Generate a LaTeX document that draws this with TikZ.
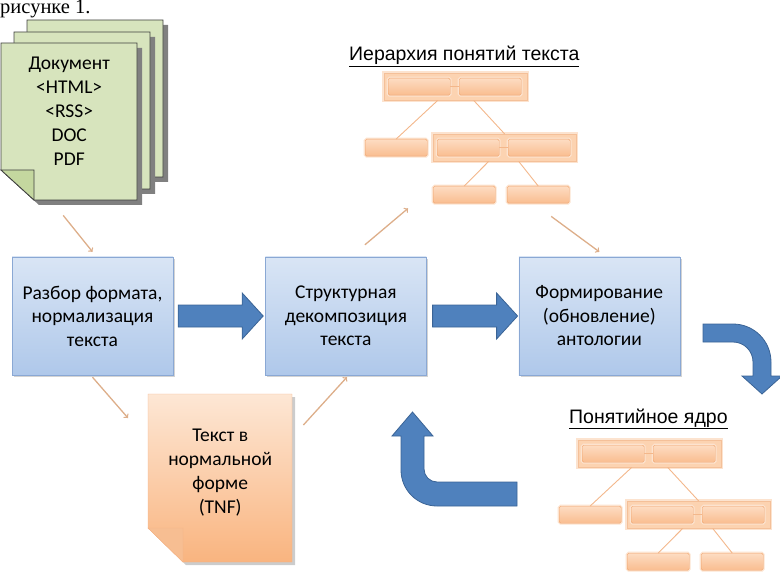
\documentclass[tikz,border=0pt]{standalone}
\usepackage{fontspec}
\setmainfont{Carlito}
\newfontfamily\arialfont{Liberation Sans}
\newfontfamily\timesfont{Liberation Serif}
\usetikzlibrary{positioning}
\usetikzlibrary{calc}
\usetikzlibrary{arrows}
\usetikzlibrary{shadows}
\definecolor{boxline}{HTML}{8AA8D4}
\definecolor{boxtop}{HTML}{D9E5F5}
\definecolor{boxbot}{HTML}{AFC8EA}
\definecolor{arrowfill}{HTML}{4F81BD}
\definecolor{arrowline}{HTML}{3B6496}
\definecolor{docgreen}{HTML}{D7E4BD}
\definecolor{docfold}{HTML}{C4D79F}
\definecolor{tnftop}{HTML}{FDE7D5}
\definecolor{tnfbot}{HTML}{F9B47F}
\definecolor{tnfline}{HTML}{F5B386}
\definecolor{tnffold}{HTML}{F7BE92}
\definecolor{treetop}{HTML}{FDDCC2}
\definecolor{treebot}{HTML}{F9BD90}
\definecolor{treeline}{HTML}{F0A56E}
\definecolor{treeglow}{HTML}{FCE3CF}
\definecolor{groupfill}{HTML}{FCD3B1}
\definecolor{linktan}{HTML}{DDAE8A}

\begin{document}
\begin{tikzpicture}[x=1pt, y=-1pt,
    stage/.style={draw=boxline, top color=boxtop, bottom color=boxbot,
      minimum width=161pt, minimum height=118pt, align=center,
      font=\fontsize{19.5}{23.5}\selectfont,
      drop shadow={shadow xshift=2pt, shadow yshift=-2pt, opacity=0.35}},
    bigarrow/.style={draw=arrowline, fill=arrowfill, line width=0.8pt},
    link/.style={draw=linktan, line width=1.3pt, ->},
    treebox/.style={draw=treeline, top color=treetop, bottom color=treebot,
      rounded corners=1.5pt, inner sep=0pt, minimum width=62pt, minimum height=17pt,
      anchor=north west, preaction={draw=treeglow, line width=3pt}},
    groupbox/.style={draw=treeline!70, fill=groupfill, inner sep=0pt,
      minimum width=143pt, minimum height=27pt, anchor=north west,
      preaction={draw=treeglow, line width=4pt}},
    treelink/.style={draw=treeline!80, line width=0.9pt},
    title/.style={font=\arialfont\fontsize{19.5}{22}\selectfont, inner sep=0pt, anchor=base west}
  ]
    \useasboundingbox (0,0) rectangle (780,575);

    \node[font=\timesfont\fontsize{20.5}{22}\selectfont, inner sep=0pt, anchor=base west] (fig) at (0,14) {рисунке 1.};

    % stack of source documents
    \foreach \px/\py in {27/20, 14/32, 1/43} {
      \fill[black!50] (\px+5,\py+5) -- ++(136,0) -- ++(0,157) -- ++(-103,0) -- ++(-33,-30) -- cycle;
      \draw[black!75, line width=0.8pt, fill=docgreen] (\px,\py) -- ++(136,0) -- ++(0,157) -- ++(-103,0) -- ++(-33,-30) -- cycle;
      \draw[black!75, line width=0.8pt, fill=docfold] (\px,\py+127) -- ++(33,0) -- ++(0,30) -- cycle;
    }
    \node[minimum width=136pt, minimum height=158pt, anchor=north west, yshift=11pt, align=center,
      font=\fontsize{19.5}{23.8}\selectfont] (front) at (1,43) {Документ\\<HTML>\\<RSS>\\DOC\\PDF};

    % text in normal form
    \fill[black, opacity=0.2] (151,397) -- (295,397) -- (295,565) -- (186,565) -- (151,531) -- cycle;
    \draw[tnfline, top color=tnftop, bottom color=tnfbot] (148,394) -- (292,394) -- (292,562) -- (183,562) -- (148,528) -- cycle;
    \draw[tnfline, fill=tnffold] (148,528) -- (183,528) -- (183,562) -- cycle;
    \node[minimum width=144pt, minimum height=168pt, anchor=north west, yshift=5.5pt, align=center,
      font=\fontsize{19.5}{23.8}\selectfont] (tnf) at (148,394) {Текст в\\нормальной\\форме\\(TNF)};

    % processing stages
    \node[stage] (box1) at (92.5,316) {Разбор формата,\\нормализация\\текста};
    \node[stage, right=92pt of box1] (box2) {Структурная\\декомпозиция\\текста};
    \node[stage, right=92pt of box2] (box3) {Формирование\\(обновление)\\антологии};

    \draw[bigarrow] ($(box1.east)+(5,-11)$) -- ++(64,0) -- ++(0,-12) -- ++(21,23) -- ++(-21,23) -- ++(0,-12) -- ++(-64,0) -- cycle;
    \draw[bigarrow] ($(box2.east)+(6,-11)$) -- ++(64,0) -- ++(0,-12) -- ++(21,23) -- ++(-21,23) -- ++(0,-12) -- ++(-64,0) -- cycle;

    % turning arrows
    \draw[bigarrow] (703,324) -- (733,324) arc[start angle=-90, end angle=0, radius=38]
      -- (771,376) -- (782,376) -- (762,394) -- (742,376) -- (753,376) -- (753,362)
      arc[start angle=0, end angle=-90, radius=20] -- (703,342) -- cycle;
    \draw[bigarrow] (517,482) -- (437,482) arc[start angle=90, end angle=180, radius=13]
      -- (424,436) -- (433,436) -- (412.5,412) -- (392,436) -- (401,436) -- (401,470)
      arc[start angle=180, end angle=90, radius=36] -- (517,506) -- cycle;

    % concept trees
    \foreach \t/\ox/\oy in {h/384/73, c/578/440} {
      \begin{scope}[shift={(\ox,\oy)}]
        \node[groupbox] (\t-top) at (0,0) {};
        \node[treebox] (\t-a) at (4,5) {};
        \node[treebox] (\t-b) at (75,5) {};
        \node[treebox] (\t-l) at (-19,66) {};
        \node[groupbox] (\t-mid) at (49,61) {};
        \node[treebox] (\t-c) at (53,66) {};
        \node[treebox] (\t-d) at (124,66) {};
        \node[treebox] (\t-e) at (49,113) {};
        \node[treebox] (\t-f) at (123,113) {};
        \draw[treelink] (\t-a) -- (\t-b);
        \draw[treelink] (\t-c) -- (\t-d);
        \draw[treelink] ($(\t-top.south)+(-18,0)$) -- (\t-l.north);
        \draw[treelink] ($(\t-top.south)+(18,0)$) -- (\t-mid.north);
        \draw[treelink] ($(\t-mid.south)+(-16,0)$) -- (\t-e.north);
        \draw[treelink] ($(\t-mid.south)+(14,0)$) -- (\t-f.north);
      \end{scope}
    }
    \node[title] (htitle) at (349,61) {\underline{Иерархия понятий текста}};
    \node[title] (ctitle) at (569,423) {\underline{Понятийное ядро}};

    \draw[link] ($(front.south)+(-6,25)$) -- ($(box1.north)+(0,-5)$);
    \draw[link] ($(box1.south)+(0,2)$) -- ($(tnf.north west)+(-20,29.5)$);
    \draw[link] ($(tnf.north east)+(11,36.5)$) -- ($(box2.south)+(1,2)$);
    \draw[link] ($(box2.north)+(19,-12)$) -- ($(h-e.south west)+(-25,5)$);
    \draw[link] ($(h-f.south)+(13,13)$) -- ($(box3.north)+(0,-5)$);
  \end{tikzpicture}
\end{document}
